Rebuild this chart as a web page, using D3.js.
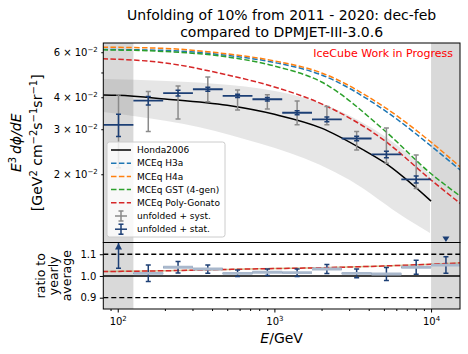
<!DOCTYPE html>
<html>
<head>
<meta charset="utf-8">
<script src="https://cdn.jsdelivr.net/npm/d3@7"></script>
<style>
  body { margin: 0; background: #fff; }
  text { font-family: "DejaVu Sans", sans-serif; }
</style>
</head>
<body>
<svg id="chart" width="468" height="354"></svg>
<script>
// ---- data ----
// energy bin edges (GeV)
const binEdges = [81.3, 125.9, 195.0, 302.0, 467.7, 724.4, 1122, 1738, 2692, 4169, 6457, 10000, 15488];
// unfolded flux E^3 dphi/dE, last bin lies below the axis
const flux = [3.12e-2, 3.88e-2, 4.15e-2, 4.30e-2, 4.05e-2, 3.93e-2, 3.48e-2, 3.28e-2, 2.76e-2, 2.39e-2, 1.91e-2, 0.95e-2];
const systLo = [2.12e-2, 2.94e-2, 3.29e-2, 3.84e-2, 3.57e-2, 3.60e-2, 3.12e-2, 3.12e-2, 2.49e-2, 2.21e-2, 1.76e-2, null];
const systHi = [4.09e-2, 4.21e-2, 4.43e-2, 4.80e-2, 4.27e-2, 4.09e-2, 3.87e-2, 3.68e-2, 2.94e-2, 3.03e-2, 2.38e-2, null];
// relative stat. error
const statErr = [0.10, 0.038, 0.026, 0.019, 0.015, 0.015, 0.017, 0.021, 0.020, 0.030, 0.032, 0.038];
// ratio to yearly average
const ratio = [1.20, 1.012, 1.040, 1.032, 1.012, 1.017, 1.015, 1.032, 1.012, 1.009, 1.040, 1.050];
const ratioErr = [0.164, 0.038, 0.026, 0.019, 0.015, 0.015, 0.017, 0.021, 0.020, 0.030, 0.032, 0.038];

// model curves
const hondaE = [81, 100, 200, 500, 1000, 2000, 3700, 5000, 10000];
const honda = [4.085e-2, 4.07e-2, 3.94e-2, 3.72e-2, 3.43e-2, 3.03e-2, 2.49e-2, 2.23e-2, 1.57e-2];
const bandE = [81, 521, 3025, 7015, 9840];
const bandLo = [3.50e-2, 2.85e-2, 1.90e-2, 1.337e-2, 1.179e-2];
const bandHi = [4.72e-2, 4.47e-2, 3.39e-2, 2.42e-2, 1.99e-2];

const mceqE = [80, 200, 500, 1000, 2000, 5000, 10000, 15300];
const mceqH3a = [6.15e-2, 6.10e-2, 5.83e-2, 5.47e-2, 4.89e-2, 3.57e-2, 2.58e-2, 2.08e-2];
const mceqH4a = [6.28e-2, 6.21e-2, 5.91e-2, 5.55e-2, 4.98e-2, 3.67e-2, 2.67e-2, 2.14e-2];
const mceqGST = [6.13e-2, 6.04e-2, 5.75e-2, 5.30e-2, 4.59e-2, 2.98e-2, 2.01e-2, 1.645e-2];
const mceqPG = [5.66e-2, 5.45e-2, 4.89e-2, 4.39e-2, 3.77e-2, 2.72e-2, 1.90e-2, 1.54e-2];
// model ratio in lower panel
const ratioModel = [1.020, 1.024, 1.030, 1.034, 1.038, 1.046, 1.054, 1.060];

const upperTicks = [2e-2, 3e-2, 4e-2, 5e-2, 6e-2];
const upperLabels = [[2, 2], [3, 2], [4, 2], null, [6, 2]];
const lowerTicks = [0.9, 1.0, 1.1];
const xMajor = [100, 1000, 10000];
const excluded = [[80.9, 125.9], [10000, 15300]];

// ---- layout ----
const navy = "#1c3f75", syst = "#8a8a8a";
const colors = { h3a: "#1f77b4", h4a: "#ff7f0e", gst: "#2ca02c", pg: "#d62728" };

const x = d3.scaleLog().domain([80.9, 15300]).range([103.3, 460]);
const yU = d3.scaleLog().domain([1.082e-2, 6.52e-2]).range([242.5, 43]);
const yL = d3.scaleLinear().domain([0.848, 1.154]).range([309, 242.5]);

const svg = d3.select("#chart");
const defs = svg.append("defs");
defs.append("clipPath").attr("id", "clipU").append("rect")
  .attr("x", x.range()[0]).attr("y", yU.range()[1])
  .attr("width", x.range()[1] - x.range()[0]).attr("height", yU.range()[0] - yU.range()[1]);
defs.append("clipPath").attr("id", "clipL").append("rect")
  .attr("x", x.range()[0]).attr("y", yL.range()[1])
  .attr("width", x.range()[1] - x.range()[0]).attr("height", yL.range()[0] - yL.range()[1]);

const gU = svg.append("g").attr("clip-path", "url(#clipU)");
const gL = svg.append("g").attr("clip-path", "url(#clipL)");

const centers = binEdges.slice(0, -1).map((e, i) => Math.sqrt(e * binEdges[i + 1]));

// excluded regions
[gU, gL].forEach((g, k) => {
  const ys = k === 0 ? yU : yL;
  g.selectAll("rect.excl").data(excluded).join("rect").attr("class", "excl")
    .attr("x", d => x(d[0])).attr("width", d => x(d[1]) - x(d[0]))
    .attr("y", ys.range()[1]).attr("height", ys.range()[0] - ys.range()[1])
    .attr("fill", "#808080").attr("opacity", 0.3);
});

// honda band
const bandData = bandE.map((e, i) => ({ e, lo: bandLo[i], hi: bandHi[i] }));
gU.append("path").datum(bandData)
  .attr("d", d3.area().x(d => x(d.e)).y0(d => yU(d.lo)).y1(d => yU(d.hi)).curve(d3.curveMonotoneX))
  .attr("fill", "#808080").attr("opacity", 0.2);

const lineU = d3.line().x(d => x(d[0])).y(d => yU(d[1])).curve(d3.curveMonotoneX);
const models = [
  { v: mceqH3a, c: colors.h3a, name: "MCEq H3a" },
  { v: mceqH4a, c: colors.h4a, name: "MCEq H4a" },
  { v: mceqGST, c: colors.gst, name: "MCEq GST (4-gen)" },
  { v: mceqPG, c: colors.pg, name: "MCEq Poly-Gonato" }
];
models.forEach(m => {
  gU.append("path").datum(mceqE.map((e, i) => [e, m.v[i]]))
    .attr("d", lineU).attr("fill", "none").attr("stroke", m.c)
    .attr("stroke-width", 1.5).attr("stroke-dasharray", "5.5,2.4");
});
gU.append("path").datum(hondaE.map((e, i) => [e, honda[i]]))
  .attr("d", lineU).attr("fill", "none").attr("stroke", "#000").attr("stroke-width", 1.5);

// unfolded points, upper panel
const cap = 2.5;
const pts = centers.map((c, i) => ({ c, lo: binEdges[i], hi: binEdges[i + 1], f: flux[i], sl: systLo[i], sh: systHi[i], se: statErr[i], r: ratio[i], re: ratioErr[i] }));
const inU = pts.filter(d => d.f > yU.domain()[0]);
const sys = gU.append("g").attr("stroke", syst).attr("stroke-width", 1.5);
inU.forEach(d => {
  sys.append("line").attr("x1", x(d.c)).attr("x2", x(d.c)).attr("y1", yU(d.sl)).attr("y2", yU(d.sh));
  [d.sl, d.sh].forEach(v => sys.append("line").attr("x1", x(d.c) - cap).attr("x2", x(d.c) + cap).attr("y1", yU(v)).attr("y2", yU(v)));
});
const st = gU.append("g").attr("stroke", navy).attr("stroke-width", 1.5);
inU.forEach(d => {
  st.append("line").attr("x1", x(d.lo)).attr("x2", x(d.hi)).attr("y1", yU(d.f)).attr("y2", yU(d.f)).attr("stroke-width", 1.8);
  const a = yU(d.f * (1 - d.se)), b = yU(d.f * (1 + d.se));
  st.append("line").attr("x1", x(d.c)).attr("x2", x(d.c)).attr("y1", a).attr("y2", b);
  [a, b].forEach(v => st.append("line").attr("x1", x(d.c) - cap).attr("x2", x(d.c) + cap).attr("y1", v).attr("y2", v));
});
// out of range marker
pts.filter(d => d.f <= yU.domain()[0]).forEach(d => {
  const yb = yU.range()[0];
  gU.append("path").attr("d", `M${x(d.c) - 3.5},${yb - 6}L${x(d.c) + 3.5},${yb - 6}L${x(d.c)},${yb - 0.5}Z`).attr("fill", navy);
});

// lower panel
gL.append("line").attr("x1", x.range()[0]).attr("x2", x.range()[1]).attr("y1", yL(1)).attr("y2", yL(1)).attr("stroke", "#000").attr("stroke-width", 1.5);
[0.9, 1.1].forEach(v => gL.append("line").attr("x1", x.range()[0]).attr("x2", x.range()[1]).attr("y1", yL(v)).attr("y2", yL(v))
  .attr("stroke", "#000").attr("stroke-width", 1.3).attr("stroke-dasharray", "5,3"));
const lineL = d3.line().x(d => x(d[0])).y(d => yL(d[1])).curve(d3.curveMonotoneX);
gL.append("path").datum(mceqE.map((e, i) => [e, ratioModel[i]])).attr("d", lineL).attr("fill", "none")
  .attr("stroke", "#b5a24a").attr("stroke-width", 1.5).attr("opacity", 0.6);
gL.append("path").datum(mceqE.map((e, i) => [e, ratioModel[i]])).attr("d", lineL).attr("fill", "none")
  .attr("stroke", colors.pg).attr("stroke-width", 1.5).attr("stroke-dasharray", "5.5,2.4");

const stL = gL.append("g").attr("stroke", navy).attr("stroke-width", 1.5);
pts.forEach(d => {
  gL.append("line").attr("x1", x(d.lo)).attr("x2", x(d.hi)).attr("y1", yL(d.r)).attr("y2", yL(d.r))
    .attr("stroke", "#a9b8cc").attr("stroke-width", 2.8);
  stL.append("line").attr("x1", x(d.lo)).attr("x2", x(d.hi)).attr("y1", yL(d.r)).attr("y2", yL(d.r)).attr("stroke-width", 1.3);
  const a = yL(d.r - d.re), b = yL(d.r + d.re);
  stL.append("line").attr("x1", x(d.c)).attr("x2", x(d.c)).attr("y1", a).attr("y2", b);
  [a, b].forEach(v => stL.append("line").attr("x1", x(d.c) - cap).attr("x2", x(d.c) + cap).attr("y1", v).attr("y2", v));
  if (d.r > yL.domain()[1]) {
    const yt = yL.range()[1];
    gL.append("path").attr("d", `M${x(d.c) - 3.5},${yt + 7}L${x(d.c) + 3.5},${yt + 7}L${x(d.c)},${yt + 0.5}Z`).attr("fill", navy);
  }
});

// frames
[[yU.range()[1], yU.range()[0]], [yL.range()[1], yL.range()[0]]].forEach(r => {
  svg.append("rect").attr("x", x.range()[0]).attr("y", r[0]).attr("width", x.range()[1] - x.range()[0]).attr("height", r[1] - r[0])
    .attr("fill", "none").attr("stroke", "#000").attr("stroke-width", 1);
});

// ---- axes ----
const axU = svg.append("g").attr("transform", `translate(${x.range()[0]},0)`)
  .call(d3.axisLeft(yU).tickValues(upperTicks).tickSize(2).tickPadding(3.5).tickFormat(() => ""));
axU.select(".domain").remove();
axU.selectAll(".tick text").each(function (d, i) {
  const lab = upperLabels[i];
  if (!lab) return;
  const t = d3.select(this).attr("font-size", 10).attr("fill", "#000").attr("font-family", "DejaVu Sans");
  t.append("tspan").text(lab[0] + " × 10");
  t.append("tspan").attr("dy", -4).attr("font-size", 7).text("−" + lab[1]);
});

const axLy = svg.append("g").attr("transform", `translate(${x.range()[0]},0)`)
  .call(d3.axisLeft(yL).tickValues(lowerTicks).tickSize(3.5).tickPadding(3.5).tickFormat(d3.format(".1f")));
axLy.select(".domain").remove();
axLy.selectAll("text").attr("font-size", 10).attr("font-family", "DejaVu Sans");

const minor = [];
[10, 100, 1000, 10000].forEach(dec => { for (let k = 2; k < 10; k++) { const v = dec * k; if (v > x.domain()[0] && v < x.domain()[1]) minor.push(v); } });
const axX = svg.append("g").attr("transform", `translate(0,${yL.range()[0]})`);
axX.call(d3.axisBottom(x).tickValues(minor).tickSize(2).tickFormat(() => ""));
axX.append("g").call(d3.axisBottom(x).tickValues(xMajor).tickSize(3.5).tickPadding(3.5).tickFormat(() => ""));
axX.selectAll(".domain").remove();
axX.selectAll("g > g.tick text").each(function (d) {
  if (!xMajor.includes(d)) return;
  const t = d3.select(this).attr("font-size", 10).attr("font-family", "DejaVu Sans").attr("dy", "0.9em");
  t.append("tspan").text("10");
  t.append("tspan").attr("dy", -4).attr("font-size", 7).text(Math.round(Math.log10(d)));
});

// ---- labels ----
const cx = (x.range()[0] + x.range()[1]) / 2;
svg.append("text").attr("x", cx).attr("y", 19.5).attr("text-anchor", "middle").attr("font-size", 14)
  .text("Unfolding of 10% from 2011 - 2020: dec-feb");
svg.append("text").attr("x", cx).attr("y", 36.5).attr("text-anchor", "middle").attr("font-size", 14)
  .text("compared to DPMJET-III-3.0.6");
svg.append("text").attr("x", 453).attr("y", 57).attr("text-anchor", "end").attr("font-size", 11).attr("fill", "red")
  .text("IceCube Work in Progress");

// rich text with superscripts: parts = [[text, supText, italic]]
function richText(t, parts) {
  let up = false;
  parts.forEach(p => {
    const a = t.append("tspan").text(p[0]);
    if (up) { a.attr("dy", 5); up = false; }
    if (p[2]) a.attr("font-style", "italic");
    if (p[1]) {
      t.append("tspan").attr("dy", -5).attr("font-size", 10).text(p[1]);
      up = true;
    }
  });
}
const yc = (yU.range()[0] + yU.range()[1]) / 2;
const yl1 = svg.append("text").attr("transform", `translate(21,${yc}) rotate(-90)`).attr("text-anchor", "middle").attr("font-size", 14);
richText(yl1, [["E", "3", true], ["\u2009dϕ/dE", null, true]]);
const yl2 = svg.append("text").attr("transform", `translate(42,${yc}) rotate(-90)`).attr("text-anchor", "middle").attr("font-size", 14);
richText(yl2, [["[GeV", "2"], [" cm", "−2"], ["s", "−1"], ["sr", "−1"], ["]", null]]);

const ylc = (yL.range()[0] + yL.range()[1]) / 2;
["ratio to", "yearly", "average"].forEach((s, i) => {
  svg.append("text").attr("transform", `translate(${44.5 + i * 13.4},${ylc}) rotate(-90)`).attr("text-anchor", "middle")
    .attr("font-size", 12.5).text(s);
});

const xl = svg.append("text").attr("x", cx).attr("y", 343).attr("text-anchor", "middle").attr("font-size", 14);
xl.append("tspan").attr("font-style", "italic").text("E");
xl.append("tspan").text("/GeV");

// ---- legend ----
const leg = svg.append("g").attr("transform", "translate(107,142)");
leg.append("rect").attr("width", 118).attr("height", 95).attr("rx", 2.5)
  .attr("fill", "#fff").attr("fill-opacity", 0.8).attr("stroke", "#ccc").attr("stroke-width", 1);
const entries = [{ name: "Honda2006", c: "#000", dash: null, type: "line" }]
  .concat(models.map(m => ({ name: m.name, c: m.c, dash: "5.5,2.4", type: "line" })))
  .concat([{ name: "unfolded + syst.", c: syst, type: "err" }, { name: "unfolded + stat.", c: navy, type: "err" }]);
entries.forEach((e, i) => {
  const yy = 8 + i * 13.2;
  if (e.type === "line") {
    leg.append("line").attr("x1", 4).attr("x2", 24).attr("y1", yy).attr("y2", yy).attr("stroke", e.c)
      .attr("stroke-width", 1.5).attr("stroke-dasharray", e.dash);
  } else {
    const g = leg.append("g").attr("stroke", e.c).attr("stroke-width", 1.5);
    g.append("line").attr("x1", 8).attr("x2", 20).attr("y1", yy).attr("y2", yy);
    g.append("line").attr("x1", 14).attr("x2", 14).attr("y1", yy - 5).attr("y2", yy + 5);
    [yy - 5, yy + 5].forEach(v => g.append("line").attr("x1", 11.5).attr("x2", 16.5).attr("y1", v).attr("y2", v));
  }
  leg.append("text").attr("x", 30).attr("y", yy).attr("dy", "0.35em").attr("font-size", 9).text(e.name);
});
</script>
</body>
</html>
